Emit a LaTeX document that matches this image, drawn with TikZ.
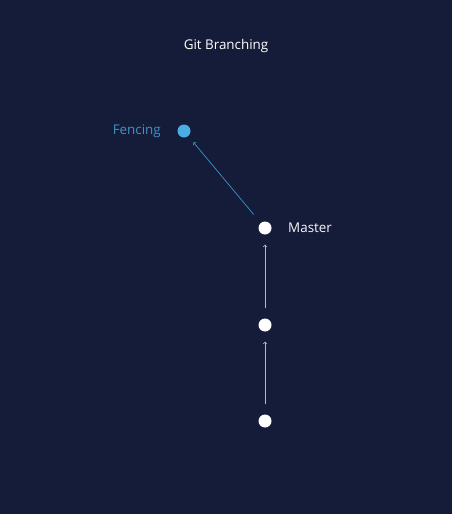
\documentclass[tikz,border=0pt]{standalone}
\usepackage{fontspec}
\setmainfont{Open Sans}
\usetikzlibrary{arrows,positioning}
\definecolor{bgnavy}{HTML}{151C3A}
\definecolor{fenceblue}{HTML}{4BAEE2}
\definecolor{fencetext}{HTML}{3E93C6}
\definecolor{linegrey}{HTML}{B4B8C8}

\begin{document}
\begin{tikzpicture}[x=1pt, y=-1pt,
        commit/.style={circle, fill=white, minimum size=13pt, inner sep=0pt},
        lbl/.style={font=\fontsize{13.4}{16}\selectfont},
        edge/.style={->, >=to, line width=0.7pt, linegrey, shorten <=10pt, shorten >=10pt}]
        \fill[bgnavy] (0,0) rectangle (452,514);
        \useasboundingbox (0,0) rectangle (452,514);

        \node[lbl, text=white] (title) at (226,46) {Git Branching};

        \node[commit] (C) at (265,421) {};
        \node[commit] (B) at (265,325) {};
        \node[commit] (A) at (265,228) {};
        \node[commit, fill=fenceblue] (F) at (184,131) {};

        \node[lbl, text=white!90!linegrey, right=13pt of A] (master) {Master};
        \node[lbl, text=fencetext, left=13pt of F] (fencing) {Fencing};

        \draw[edge] (C) -- (B);
        \draw[edge] (B) -- (A);
        \draw[edge, fencetext, shorten <=11pt, shorten >=8pt] (A) -- (F);

    \end{tikzpicture}
\end{document}
